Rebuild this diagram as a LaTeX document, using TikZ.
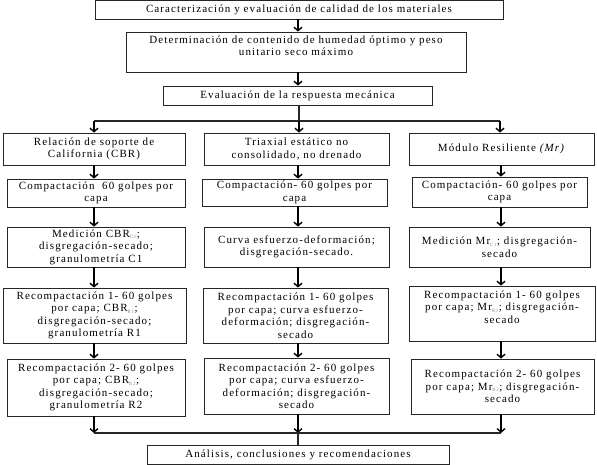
\documentclass[tikz,border=0pt]{standalone}
\usepackage{fontspec}
\setmainfont{Liberation Serif}[LetterSpace=10]
\usetikzlibrary{arrows.meta,calc}
\newcommand\sbs[1]{\textsubscript{\color{black!45}\fontsize{5}{5}\selectfont #1}}
\newcommand\bx[7][]{%
  \node[box,#1,minimum width={(#5-#3)*1pt},minimum height={(#6-#4)*1pt}] (#2) at ({(#3+#5)/2},{(#4+#6)/2}) {#7};}
\tikzset{
  box/.style={draw=black!85,line width=0.8pt,inner sep=0pt,align=center,font=\fontsize{11}{12.5}\selectfont},
  txt/.style={inner sep=0pt,align=center,font=\fontsize{11}{12.5}\selectfont},
  ln/.style={line width=1.4pt,black!85},
  arr/.style={line width=1.4pt,black,-{Straight Barb[length=3.5pt,width=8pt]}}
}
\begin{document}
\begin{tikzpicture}[x=1pt,y=-1pt]
\useasboundingbox (0,0) rectangle (597,465);
% top boxes
\bx{b1}{95}{0}{503}{19}{Caracterización y evaluación de calidad de los materiales}
\bx{b2}{126}{32}{466}{72}{}
\node[txt,anchor=north] (b2t) at ($(b2.north)+(0,4)$) {Determinación de contenido de humedad óptimo y peso\\unitario seco máximo};
\bx{b3}{163}{86}{432}{105}{Evaluación de la respuesta mecánica}
% column 1
\bx{a1}{3}{133}{185}{165}{Relación de soporte de\\California (CBR)}
\bx{a2}{7}{179}{185}{207}{Compactación\ \ 60 golpes por\\capa}
\bx{a3}{7}{227}{185}{267}{Medición CBR\sbs{C1};\\disgregación-secado;\\granulometría C1}
\bx{a4}{3}{288}{186}{343}{Recompactación 1- 60 golpes\\por capa; CBR\sbs{R1};\\disgregación-secado;\\granulometría R1}
\bx{a5}{7}{359}{185}{416}{Recompactación 2- 60 golpes\\por capa; CBR\sbs{R2};\\disgregación-secado;\\granulometría R2}
% column 2
\bx{m1}{204}{133}{389}{165}{Triaxial estático no\\consolidado, no drenado}
\bx{m2}{202}{179}{387}{206}{Compactación- 60 golpes por\\capa}
\bx{m3}{204}{227}{389}{267}{Curva esfuerzo-deformación;\\disgregación-secado.}
\bx{m4}{203}{288}{388}{343}{Recompactación 1- 60 golpes\\por capa; curva esfuerzo-\\deformación; disgregación-\\secado}
\bx{m5}{204}{358}{389}{414}{Recompactación 2- 60 golpes\\por capa; curva esfuerzo-\\deformación; disgregación-\\secado}
% column 3
\bx{r1}{409}{133}{594}{165}{Módulo Resiliente \textit{(Mr)}}
\bx{r2}{412}{177}{587}{207}{Compactación- 60 golpes por\\capa}
\bx{r3}{409}{227}{590}{267}{Medición Mr\sbs{C1}; disgregación-\\secado}
\bx{r4}{409}{286}{595}{341}{}
\node[txt,anchor=north] (r4t) at ($(r4.north)+(0,5)$) {Recompactación 1- 60 golpes\\por capa; Mr\sbs{R1}; disgregación-\\secado};
\bx{r5}{411}{359}{594}{414}{Recompactación 2- 60 golpes\\por capa; Mr\sbs{R2}; disgregación-\\secado}
% final
\bx{fin}{147}{445}{449}{464}{Análisis, conclusiones y recomendaciones}
% coordinates
\coordinate (X1) at (94,0);
\coordinate (X2) at (298,0);
\coordinate (X3) at (501,0);
\coordinate (T1) at (94,121);
\coordinate (T2) at (299,121);
\coordinate (T3) at (500,121);
\coordinate (B1) at (94,433);
\coordinate (B2) at (298,433);
\coordinate (B3) at (501,433);
% top connectors
\draw[arr] (b1.south -| X2) -- (b2.north -| X2);
\draw[arr] (b2.south -| X2) -- (b3.north -| X2);
\draw[ln] (b3.south -| T2) -- (T2);
\draw[ln] (T1) -- (T3);
\draw[arr] (T1) -- (a1.north -| T1);
\draw[arr] (T2) -- (m1.north -| T2);
\draw[arr] (T3) -- (r1.north -| T3);
% column chains
\draw[arr] (a1.south -| X1) -- (a2.north -| X1);
\draw[arr] (a2.south -| X1) -- (a3.north -| X1);
\draw[arr] (a3.south -| X1) -- (a4.north -| X1);
\draw[arr] (a4.south -| X1) -- (a5.north -| X1);
\draw[arr] (m1.south -| X2) -- (m2.north -| X2);
\draw[arr] (m2.south -| X2) -- (m3.north -| X2);
\draw[arr] (m3.south -| X2) -- (m4.north -| X2);
\draw[arr] (m4.south -| X2) -- (m5.north -| X2);
\draw[arr] (r1.south -| X3) -- (r2.north -| X3);
\draw[arr] (r2.south -| X3) -- (r3.north -| X3);
\draw[arr] (r3.south -| X3) -- (r4.north -| X3);
\draw[arr] (r4.south -| X3) -- (r5.north -| X3);
% bottom
\draw[arr] (a5.south -| B1) -- (B1);
\draw[arr] (m5.south -| B2) -- (B2);
\draw[arr] (r5.south -| B3) -- (B3);
\draw[ln] (B1) -- (B3);
\draw[ln] (B2) -- (fin.north -| B2);
\end{tikzpicture}
\end{document}
